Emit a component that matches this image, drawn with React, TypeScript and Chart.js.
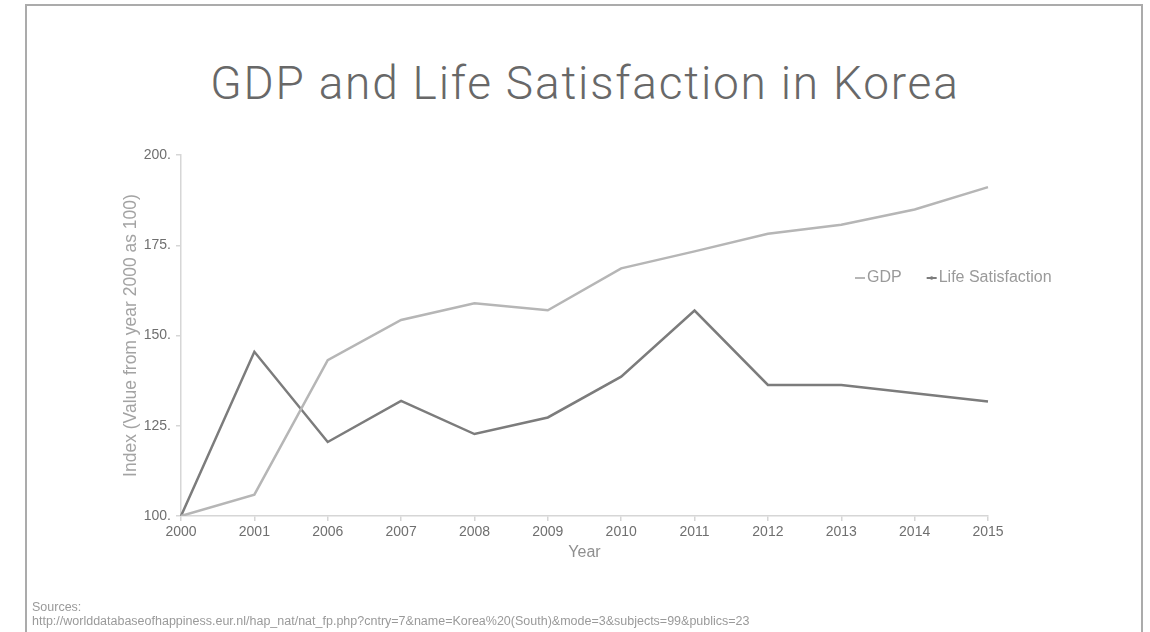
import React, { useEffect, useRef } from "react";
import { Chart, registerables } from "chart.js";

Chart.register(...registerables);

const years = ["2000", "2001", "2006", "2007", "2008", "2009", "2010", "2011", "2012", "2013", "2014", "2015"];
const gdpIndex = [100, 105.9, 143.2, 154.3, 158.9, 157.0, 168.6, 173.3, 178.2, 180.7, 184.9, 191.1];
const lifeSatisfactionIndex = [100, 145.5, 120.5, 131.9, 122.7, 127.3, 138.6, 156.9, 136.3, 136.3, 134.0, 131.7];
const seriesNames = ["GDP", "Life Satisfaction"];
const yMin = 100;
const yMax = 200;
const yStep = 25;
const titleText = "GDP and Life Satisfaction in Korea";
const xAxisTitle = "Year";
const yAxisTitle = "Index (Value from year 2000 as 100)";
const sourceLines = [
  "Sources:",
  "http://worlddatabaseofhappiness.eur.nl/hap_nat/nat_fp.php?cntry=7&name=Korea%20(South)&mode=3&subjects=99&publics=23",
];

const FONT = '"Liberation Sans", Arial, Helvetica, sans-serif';

const legendPlugin = {
  id: "floatingLegend",
  afterDraw(chart: any) {
    const ctx = chart.ctx;
    ctx.save();
    ctx.font = `16px ${FONT}`;
    ctx.textBaseline = "middle";
    ctx.textAlign = "left";
    let x = 855;
    const y = 278;
    chart.data.datasets.forEach((ds: any, i: number) => {
      ctx.strokeStyle = ds.borderColor;
      ctx.lineWidth = 2;
      ctx.beginPath();
      ctx.moveTo(x, y);
      ctx.lineTo(x + 10, y);
      ctx.stroke();
      if (i === 1) {
        ctx.fillStyle = ds.borderColor;
        ctx.beginPath();
        ctx.arc(x + 5, y, 1.8, 0, Math.PI * 2);
        ctx.fill();
      }
      ctx.fillStyle = "#9a9a9a";
      ctx.fillText(ds.label, x + 12, y);
      x += 12 + ctx.measureText(ds.label).width + 25;
    });
    ctx.restore();
  },
};

export default function App() {
  const canvasRef = useRef<HTMLCanvasElement | null>(null);

  useEffect(() => {
    if (!canvasRef.current) return;
    const chart = new Chart(canvasRef.current, {
      type: "line",
      data: {
        labels: years,
        datasets: [
          {
            label: seriesNames[0],
            data: gdpIndex,
            borderColor: "#b6b6b6",
            backgroundColor: "#b6b6b6",
            borderWidth: 2.5,
            pointRadius: 0,
            tension: 0,
          },
          {
            label: seriesNames[1],
            data: lifeSatisfactionIndex,
            borderColor: "#7c7c7c",
            backgroundColor: "#7c7c7c",
            borderWidth: 2.5,
            pointRadius: 0,
            tension: 0,
          },
        ],
      },
      options: {
        responsive: false,
        animation: false,
        devicePixelRatio: 1,
        layout: { padding: { left: 121, right: 162, top: 155, bottom: 70 } },
        plugins: {
          legend: { display: false },
          title: { display: false },
          tooltip: { enabled: false },
        },
        scales: {
          x: {
            offset: false,
            grid: {
              display: true,
              drawOnChartArea: false,
              drawTicks: true,
              tickLength: 5,
              color: "#d6d6d6",
              lineWidth: 1.5,
            },
            border: { display: true, color: "#d6d6d6", width: 1.5 },
            ticks: {
              color: "#6f6f6f",
              font: { family: FONT, size: 14 },
              padding: 3,
              maxRotation: 0,
              autoSkip: false,
            },
            title: {
              display: true,
              text: xAxisTitle,
              color: "#8f8f8f",
              font: { family: FONT, size: 16 },
              padding: 0,
            },
            afterFit(scale: any) {
              scale.height = 46;
            },
          },
          y: {
            min: yMin,
            max: yMax,
            grid: {
              display: true,
              drawOnChartArea: false,
              drawTicks: true,
              tickLength: 5,
              color: "#d6d6d6",
              lineWidth: 1.5,
            },
            border: { display: true, color: "#d6d6d6", width: 1.5 },
            ticks: {
              stepSize: yStep,
              color: "#6f6f6f",
              font: { family: FONT, size: 14 },
              padding: 5,
              callback: (v: any) => `${v}.`,
            },
            title: {
              display: true,
              text: yAxisTitle,
              color: "#a3a3a3",
              font: { family: FONT, size: 17.5 },
              padding: 0,
            },
            afterFit(scale: any) {
              scale.width = 60;
            },
          },
        },
      },
      plugins: [legendPlugin],
    });
    return () => chart.destroy();
  }, []);

  return (
    <div
      style={{
        position: "absolute",
        left: 0,
        top: 0,
        width: 1150,
        height: 632,
        overflow: "hidden",
        background: "#ffffff",
      }}
    >
      <div
        style={{
          position: "absolute",
          left: 25,
          top: 4,
          width: 1143 - 25,
          height: 700,
          border: "2px solid #ababab",
          boxSizing: "border-box",
        }}
      />
      <div
        style={{
          position: "absolute",
          left: 0,
          top: 60,
          width: 1170,
          textAlign: "center",
          fontFamily: "Roboto, sans-serif",
          fontWeight: 300,
          fontSize: 46,
          letterSpacing: "1.8px",
          lineHeight: "46px",
          color: "#686868",
          whiteSpace: "nowrap",
        }}
      >
        {titleText}
      </div>
      <canvas
        ref={canvasRef}
        width={1150}
        height={632}
        style={{ position: "absolute", left: 0, top: 0, width: 1150, height: 632 }}
      />
      <div
        style={{
          position: "absolute",
          left: 32,
          top: 600,
          fontFamily: FONT,
          fontSize: 12.5,
          lineHeight: "14px",
          color: "#9a9a9a",
          whiteSpace: "nowrap",
        }}
      >
        {sourceLines.map((s, i) => (
          <div key={i}>{s}</div>
        ))}
      </div>
    </div>
  );
}
